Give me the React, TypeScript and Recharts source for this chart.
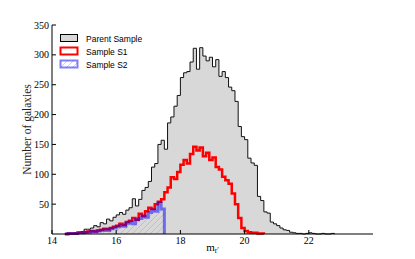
import { ComposedChart, Area, XAxis, YAxis, Label } from "recharts";

// histogram bins, 0.1 mag wide, first bin starts at 14.4
const binStart = 14.4;
const binWidth = 0.1;

const parentCounts = [
  0, 1, 1, 2, 3, 4, 8, 8, 10, 14,
  12, 19, 17, 25, 22, 28, 32, 36, 33, 40,
  44, 59, 47, 58, 73, 78, 88, 112, 118, 150,
  157, 142, 186, 196, 214, 232, 262, 270, 272, 288,
  311, 276, 312, 298, 290, 296, 280, 292, 264, 272,
  262, 246, 240, 222, 180, 163, 158, 127, 119, 115,
  63, 56, 37, 35, 20, 17, 14, 10, 7, 6,
  3, 2, 1, 1, 0, 1, 2, 1, 0, 0,
  1, 0, 0, 1, 0,
];

const s1Counts = [
  0, 1, 1, 1, 2, 2, 3, 4, 5, 4,
  6, 7, 9, 8, 10, 12, 14, 17, 15, 20,
  22, 27, 24, 34, 30, 38, 44, 42, 50, 54,
  58, 70, 78, 95, 92, 104, 116, 124, 118, 134,
  146, 140, 145, 130, 136, 124, 128, 112, 108, 96,
  90, 84, 68, 50, 27, 10, 5, 3, 2, 2,
  1, 1, 0,
];

const s2Counts = [
  0, 1, 1, 1, 2, 2, 3, 3, 4, 4,
  5, 6, 7, 6, 9, 10, 12, 14, 13, 18,
  20, 17, 24, 26, 30, 28, 36, 40, 38, 52,
  42, 0,
];

const xTicks = [14, 16, 18, 20, 22];
const yTicks = [50, 100, 150, 200, 250, 300, 350];

const data = parentCounts.map((p, i) => ({
  m: Math.round((binStart + i * binWidth) * 10) / 10,
  parent: p,
  s1: i < s1Counts.length ? s1Counts[i] : null,
  s2: i < s2Counts.length ? s2Counts[i] : null,
}));

const serif = "Liberation Serif";
const sans = "Liberation Sans";
const tickStyle = { fontFamily: serif, fontSize: 10, fill: "#000" };

function XLabel({ viewBox }: any) {
  const cx = viewBox.x + viewBox.width / 2;
  return (
    <text x={cx} y={viewBox.y + 17} textAnchor="middle" fontFamily={serif} fontSize={11} fill="#000">
      m
      <tspan fontSize={7.5} dy={2}>r′</tspan>
    </text>
  );
}

function YLabel({ viewBox }: any) {
  const cx = viewBox.x + 15;
  const cy = viewBox.y + viewBox.height / 2;
  return (
    <text
      x={cx}
      y={cy}
      transform={`rotate(-90 ${cx} ${cy})`}
      textAnchor="middle"
      dominantBaseline="central"
      fontFamily={serif}
      fontSize={11.5}
      fill="#222"
    >
      Number of galaxies
    </text>
  );
}

function LegendBox() {
  const rows = [
    { label: "Parent Sample", fill: "#d8d8d8", stroke: "#000", sw: 1 },
    { label: "Sample S1", fill: "#fff", stroke: "#ff0000", sw: 2 },
    { label: "Sample S2", fill: "url(#legHatch)", stroke: "rgba(0,0,255,0.5)", sw: 2 },
  ];
  return (
    <svg width={120} height={44} style={{ position: "absolute", left: 56, top: 30 }}>
      <defs>
        <pattern id="legHatch" patternUnits="userSpaceOnUse" width={6} height={6}>
          <path d="M-1,1 l2,-2 M0,6 l6,-6 M5,7 l2,-2" stroke="rgba(0,0,255,0.3)" strokeWidth={0.7} />
        </pattern>
      </defs>
      {rows.map((r, i) => (
        <g key={r.label}>
          <rect x={4.5} y={4.5 + i * 13} width={17} height={7} fill={r.fill} stroke={r.stroke} strokeWidth={r.sw} />
          <text x={30} y={11.5 + i * 13} fontFamily={sans} fontSize={8.5} fill="#000">
            {r.label}
          </text>
        </g>
      ))}
    </svg>
  );
}

export default function App() {
  return (
    <div style={{ position: "absolute", left: 0, top: 0, width: 415, height: 259, background: "#fff" }}>
      <ComposedChart width={415} height={259} data={data} margin={{ top: 25, right: 42, bottom: 5, left: 12 }}>
        <defs>
          <pattern id="s2Hatch" patternUnits="userSpaceOnUse" width={6} height={6}>
            <path d="M-1,1 l2,-2 M0,6 l6,-6 M5,7 l2,-2" stroke="rgba(0,0,255,0.22)" strokeWidth={0.6} />
          </pattern>
        </defs>
        <XAxis
          dataKey="m"
          type="number"
          domain={[14, 24]}
          ticks={xTicks}
          allowDataOverflow
          height={20}
          stroke="#000"
          tickSize={-4}
          tickMargin={7}
          tick={tickStyle}
        >
          <Label content={<XLabel />} />
        </XAxis>
        <XAxis
          xAxisId="top"
          orientation="top"
          dataKey="m"
          type="number"
          domain={[14, 24]}
          ticks={xTicks}
          allowDataOverflow
          height={0}
          stroke="#000"
          tickSize={-4}
          tick={false}
        />
        <YAxis
          type="number"
          domain={[0, 350]}
          ticks={yTicks}
          width={40}
          stroke="#000"
          tickSize={-4}
          tickMargin={7}
          tick={tickStyle}
        >
          <Label content={<YLabel />} />
        </YAxis>
        <YAxis
          yAxisId="right"
          orientation="right"
          type="number"
          domain={[0, 350]}
          ticks={yTicks}
          width={0}
          stroke="#000"
          tickSize={-4}
          tick={false}
        />
        <Area
          type="stepAfter"
          dataKey="parent"
          stroke="#111"
          strokeWidth={1}
          fill="#d8d8d8"
          fillOpacity={1}
          dot={false}
          activeDot={false}
          isAnimationActive={false}
        />
        <Area
          type="stepAfter"
          dataKey="s1"
          stroke="#ff0000"
          strokeWidth={2.5}
          fill="none"
          dot={false}
          activeDot={false}
          isAnimationActive={false}
        />
        <Area
          type="stepAfter"
          dataKey="s2"
          stroke="#0000ff"
          strokeOpacity={0.5}
          strokeWidth={3}
          fill="url(#s2Hatch)"
          fillOpacity={1}
          dot={false}
          activeDot={false}
          isAnimationActive={false}
        />
      </ComposedChart>
      <LegendBox />
    </div>
  );
}
